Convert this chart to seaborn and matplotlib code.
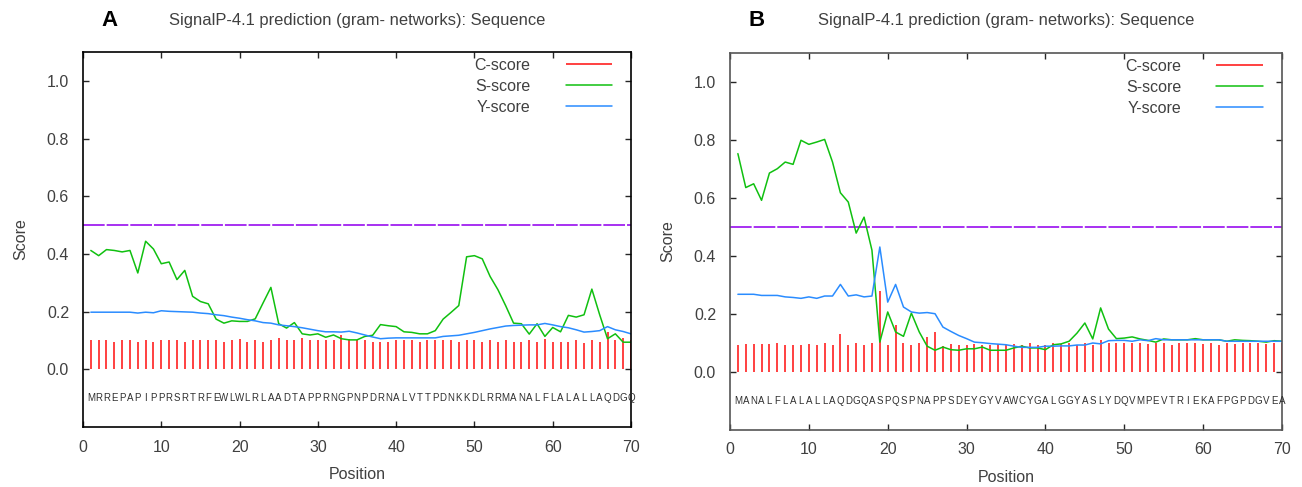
import numpy as np
import pandas as pd
import matplotlib
matplotlib.use("Agg")
import matplotlib.pyplot as plt
import seaborn as sns

# sequence positions 1..70
positions = list(range(1, 71))

seq_a = "MRREPAPIPPRSRTRFEWLWLRLAADTAPPRNGPNPDRNALVTTPDNKKDLRRMANALFLALALLAQDGQ"
seq_b = "MANALFLALALLAQDGQASPQSPNAPPSDEYGYVAWCYGALGGYASLYDQVMPEVTRIEKAFPGPDGVEA"

# panel A scores
c_score_a = [.100, .100, .100, .095, .100, .100, .095, .100, .095, .100,
             .100, .100, .095, .100, .100, .100, .100, .095, .100, .104,
             .095, .100, .095, .100, .107, .100, .100, .110, .100, .100,
             .100, .100, .118, .105, .100, .100, .095, .095, .095, .102,
             .100, .100, .095, .100, .100, .100, .100, .095, .100, .100,
             .095, .100, .095, .100, .095, .095, .100, .095, .104, .095,
             .095, .095, .100, .090, .102, .095, .131, .100, .107, .100]
s_score_a = [.412, .394, .415, .412, .407, .412, .334, .444, .417, .366,
             .372, .311, .343, .253, .235, .227, .174, .160, .168, .166,
             .166, .175, .230, .284, .158, .143, .162, .123, .119, .123,
             .111, .119, .106, .102, .102, .114, .118, .155, .151, .148,
             .130, .128, .123, .123, .134, .174, .197, .221, .390, .394,
             .383, .322, .276, .220, .160, .158, .122, .158, .114, .145,
             .130, .187, .181, .189, .278, .189, .106, .123, .094, .094]
y_score_a = [.198, .198, .198, .198, .198, .198, .195, .198, .196, .203,
             .201, .200, .199, .198, .195, .193, .189, .186, .181, .177,
             .172, .168, .162, .160, .154, .151, .148, .144, .139, .134,
             .130, .130, .129, .132, .126, .119, .112, .106, .108, .109,
             .109, .109, .109, .109, .109, .114, .116, .118, .123, .128,
             .134, .140, .145, .150, .152, .153, .154, .154, .159, .154,
             .148, .144, .137, .129, .131, .134, .148, .137, .131, .123]

# panel B scores
c_score_b = [.092, .095, .095, .095, .095, .100, .092, .092, .092, .095,
             .092, .100, .092, .130, .092, .100, .092, .100, .278, .092,
             .161, .100, .092, .100, .120, .137, .090, .095, .092, .092,
             .095, .092, .092, .095, .092, .095, .092, .100, .092, .092,
             .100, .095, .100, .092, .100, .092, .110, .100, .100, .100,
             .100, .100, .095, .100, .100, .092, .100, .100, .100, .095,
             .100, .092, .100, .095, .100, .100, .100, .095, .100, .100]
s_score_b = [.753, .636, .649, .592, .686, .701, .724, .716, .799, .785,
             .793, .802, .724, .618, .586, .479, .534, .420, .103, .207,
             .138, .123, .203, .138, .089, .075, .086, .077, .075, .080,
             .080, .086, .075, .075, .075, .083, .089, .083, .083, .077,
             .094, .097, .106, .134, .169, .114, .221, .148, .115, .117,
             .121, .114, .109, .103, .114, .111, .111, .111, .115, .111,
             .111, .111, .106, .111, .109, .108, .106, .103, .108, .106]
y_score_b = [.268, .268, .268, .264, .264, .264, .259, .257, .254, .259,
             .254, .262, .262, .302, .262, .266, .259, .262, .431, .241,
             .302, .224, .207, .203, .205, .201, .155, .140, .126, .115,
             .103, .101, .098, .096, .094, .089, .085, .085, .085, .089,
             .089, .090, .090, .093, .093, .100, .097, .108, .109, .109,
             .106, .111, .108, .115, .111, .111, .111, .111, .111, .111,
             .111, .111, .106, .106, .106, .106, .106, .106, .106, .106]

cutoff = 0.5
title = "SignalP-4.1 prediction (gram- networks): Sequence"

sns.set_style("ticks")
plt.rcParams['font.family'] = ['Liberation Sans', 'DejaVu Sans']

fig = plt.figure(figsize=(13.02, 4.87), dpi=100)
ax_a = fig.add_axes([83 / 1302, 60 / 487, 548 / 1302, 375 / 487])
ax_b = fig.add_axes([730 / 1302, 57 / 487, 552 / 1302, 377 / 487])

text_col = "#404040"


def draw_panel(ax, c, s, y, seq, spine_col):
    ax.vlines(positions, 0, c, color="#ff2020", lw=1.2, label="C-score")
    sns.lineplot(x=positions, y=s, color="#10c010", lw=1.1, label="S-score", ax=ax)
    sns.lineplot(x=positions, y=y, color="#2a8cff", lw=1.1, label="Y-score", ax=ax)
    ax.axhline(cutoff, color="#a020f0", lw=1.3, ls=(0, (12, 1.1)), zorder=1)
    for p, letter in zip(positions, seq):
        ax.text(p, -0.1, letter, ha="center", va="center", fontsize=7,
                color="#303030")
    ax.set_xlim(0, 70)
    ax.set_ylim(-0.2, 1.1)
    ax.set_xticks(range(0, 71, 10))
    ax.set_yticks([0.0, 0.2, 0.4, 0.6, 0.8, 1.0])
    ax.set_yticklabels(["0.0", "0.2", "0.4", "0.6", "0.8", "1.0"])
    ax.tick_params(direction="in", top=True, right=True, length=4,
                   width=1, labelsize=11.5, labelcolor=text_col)
    ax.tick_params(axis="y", pad=10)
    ax.tick_params(axis="x", pad=9)
    ax.set_xlabel("Position", fontsize=11.5, color=text_col, labelpad=9)
    ax.set_ylabel("Score", fontsize=11.5, color=text_col, labelpad=13)
    for sp in ax.spines.values():
        sp.set_color(spine_col)
        sp.set_linewidth(1.2)
    leg = ax.legend(loc="upper right", bbox_to_anchor=(0.965, 0.985),
                    markerfirst=False, frameon=False, fontsize=11.5,
                    handlelength=2.9, handletextpad=2.2, labelspacing=0.38,
                    borderaxespad=0, borderpad=0)
    for t in leg.get_texts():
        t.set_color(text_col)


draw_panel(ax_a, c_score_a, s_score_a, y_score_a, seq_a, "black")
draw_panel(ax_b, c_score_b, s_score_b, y_score_b, seq_b, "#555555")

fig.text(357 / 1302, 1 - 20 / 487, title, ha="center", va="center",
         fontsize=11.9, color=text_col)
fig.text(1006 / 1302, 1 - 20 / 487, title, ha="center", va="center",
         fontsize=11.9, color=text_col)
fig.text(110 / 1302, 1 - 20 / 487, "A", ha="center", va="center",
         fontsize=16, fontweight="bold", color="black")
fig.text(757 / 1302, 1 - 20 / 487, "B", ha="center", va="center",
         fontsize=16, fontweight="bold", color="black")

fig.savefig("out.png", dpi=100)
